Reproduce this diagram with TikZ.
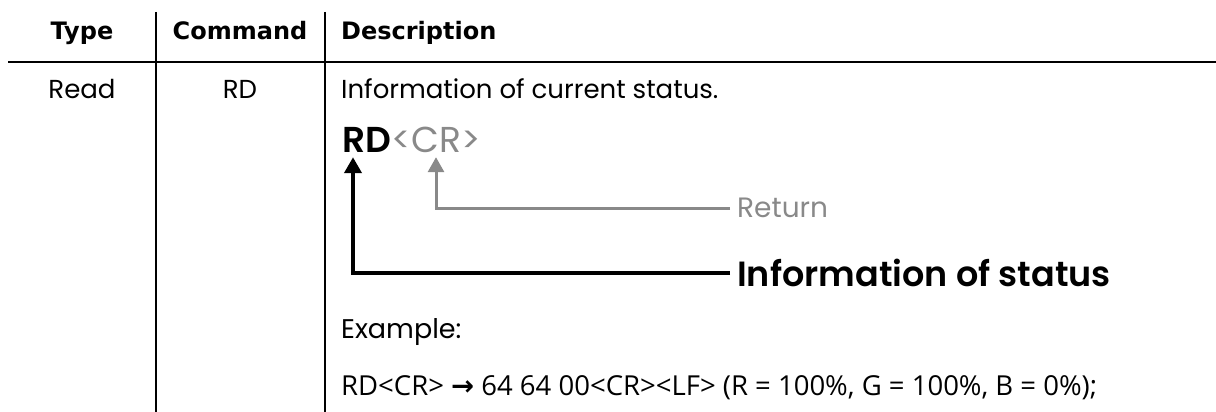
\documentclass[tikz,border=0pt]{standalone}
\usepackage{fontspec}
\usetikzlibrary{arrows.meta,positioning}
\newfontfamily\headfont{DejaVu Sans}
\newfontfamily\gothicfont{Poppins}[BoldFont={Poppins SemiBold}]
\newfontfamily\examplefont{Open Sans}
\definecolor{retgray}{RGB}{137,137,137}
\tikzset{x=1pt, y=-1pt,
    tablerule/.style={line width=2pt},
    headcell/.style={inner sep=0pt, anchor=base, font=\headfont\bfseries\fontsize{24}{28}\selectfont},
    bodycell/.style={inner sep=0pt, anchor=base, font=\gothicfont\fontsize{26}{30}\selectfont},
    statusarrow/.style={line width=4pt, -{Triangle[width=17pt,length=16pt]}},
    returnarrow/.style={retgray, line width=3pt, -{Triangle[width=16pt,length=15pt]}},
    }

\begin{document}
\begin{tikzpicture}
	\useasboundingbox (0,0) rectangle (1216,412);
	% table rules
	\draw[tablerule] (8,62) -- (1216,62);
	\draw[tablerule] (156,12) -- (156,412);
	\draw[tablerule] (325,12) -- (325,412);
	% header
	\node[headcell] (headType) at (82,40) {Type};
	\node[headcell] (headCommand) at (240,40) {Command};
	\node[headcell, anchor=base west] (headDescription) at (341,40) {Description};
	% row
	\node[bodycell] (readType) at (82,99) {Read};
	\node[bodycell] (readCommand) at (240,99) {RD};
	\node[bodycell, anchor=base west] (readInfo) at (341,99) {Information of current status.};
	\node[bodycell, anchor=base west, font=\gothicfont\bfseries\fontsize{36}{40}\selectfont] (rdBig) at (342,152) {RD};
	\node[bodycell, anchor=base west, retgray, font=\gothicfont\fontsize{36}{40}\selectfont] (crBig) at (rdBig.base east) {<CR>};
	\node[bodycell, anchor=west, inner xsep=7pt, retgray, font=\gothicfont\fontsize{28}{32}\selectfont] (returnLabel) at (730,208) {Return};
	\node[bodycell, anchor=west, inner xsep=7pt, font=\gothicfont\bfseries\fontsize{35}{39}\selectfont] (statusLabel) at (730,273) {Information of status};
	\node[bodycell, anchor=base west, font=\gothicfont\fontsize{27}{31}\selectfont] (exampleLabel) at (341,338) {Example:};
	\node[bodycell, anchor=base west, font=\examplefont\fontsize{27.5}{32}\selectfont] (exampleLine) at (341,395)
		{RD<CR> {\headfont\bfseries →} 64 64 00<CR><LF> (R = 100\%, G = 100\%, B = 0\%);};
	\draw[returnarrow] (returnLabel.west) -| ([xshift=94pt,yshift=-5pt]rdBig.south west);
	\draw[statusarrow] (statusLabel.west) -| ([xshift=11pt,yshift=-5pt]rdBig.south west);
\end{tikzpicture}
\end{document}
